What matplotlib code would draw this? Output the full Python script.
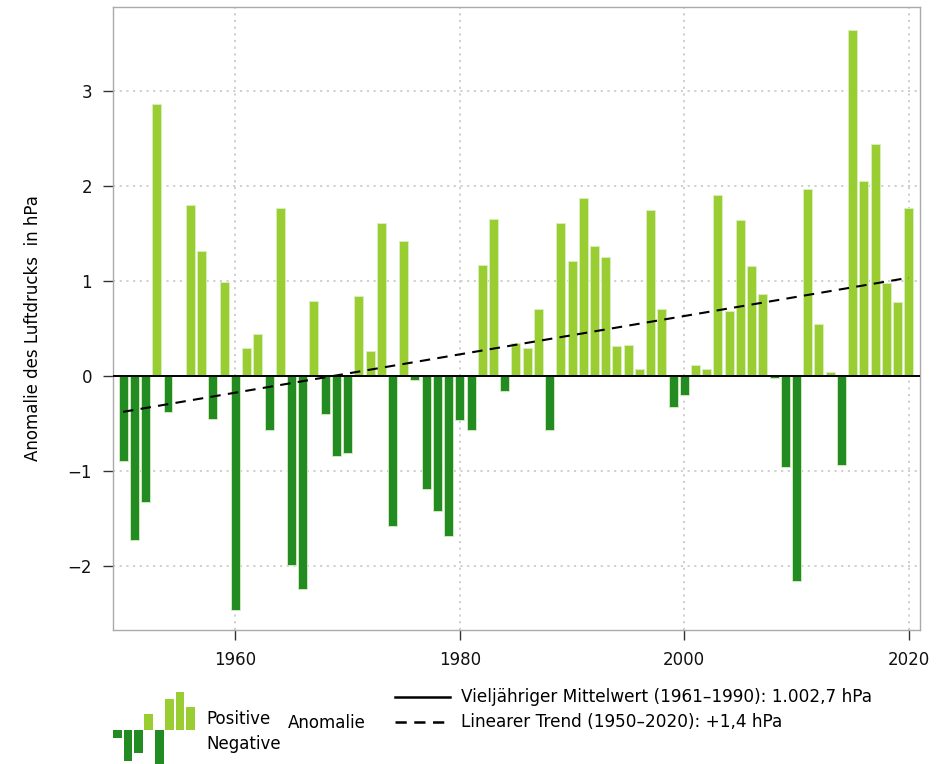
import numpy as np
import matplotlib
matplotlib.use("Agg")
import matplotlib.pyplot as plt
from matplotlib.lines import Line2D

plt.rcParams['font.family'] = ['DejaVu Sans']

years = list(range(1950, 2021))
anomaly = [
    -0.90, -1.73, -1.33, 2.87, -0.38, 0.00, 1.80, 1.32, -0.45, 0.99,   # 1950-1959
    -2.47, 0.29, 0.44, -0.57, 1.77, -1.99, -2.25, 0.79, -0.40, -0.84,  # 1960-1969
    -0.81, 0.84, 0.26, 1.61, -1.58, 1.42, -0.04, -1.19, -1.43, -1.69,  # 1970-1979
    -0.47, -0.57, 1.17, 1.65, -0.155, 0.35, 0.29, 0.70, -0.57, 1.61,   # 1980-1989
    1.21, 1.88, 1.37, 1.25, 0.31, 0.33, 0.07, 1.75, 0.70, -0.33,       # 1990-1999
    -0.20, 0.11, 0.07, 1.91, 0.68, 1.64, 1.16, 0.86, -0.02, -0.96,     # 2000-2009
    -2.16, 1.97, 0.55, 0.04, -0.94, 3.65, 2.06, 2.44, 0.98, 0.78,      # 2010-2019
    1.77,                                                              # 2020
]
x_ticks = [1960, 1980, 2000, 2020]
y_ticks = [-2, -1, 0, 1, 2, 3]
y_label = "Anomalie des Luftdrucks  in hPa"
legend_mean = "Vieljähriger Mittelwert (1961–1990): 1.002,7 hPa"
legend_trend = "Linearer Trend (1950–2020): +1,4 hPa"
legend_pos = "Positive"
legend_neg = "Negative"
legend_anom = "Anomalie"
icon_values = [-8, -31, -23, 16, -34, 31, 38, 23]

POS = "#9ACD32"
NEG = "#228B22"

fig = plt.figure(figsize=(9.42, 7.64), dpi=100)
W, H = 942, 764
ax = fig.add_axes([113 / W, 1 - 630 / H, (920 - 113) / W, (630 - 7) / H])

yrs = np.array(years)
vals = np.array(anomaly)
colors = [POS if v >= 0 else NEG for v in vals]
ax.bar(yrs, vals, width=0.8, color=colors, edgecolor="#d8f0c0", linewidth=0.6, zorder=2)

# zero line (long-term mean)
ax.axhline(0, color="black", lw=1.4, zorder=3)

# linear trend
coef = np.polyfit(yrs, vals, 1)
tx = np.array([yrs[0], yrs[-1]])
ax.plot(tx, np.polyval(coef, tx), color="black", lw=1.5, ls=(0, (5, 3.5)), zorder=4)

ax.set_xlim(1949.1, 2021.0)
ax.set_ylim(-2.68, 3.89)
ax.set_xticks(x_ticks)
ax.set_yticks(y_ticks)
ax.set_yticklabels(["\u22122", "\u22121", "0", "1", "2", "3"])
ax.grid(True, color="#cccccc", ls=(0, (1.2, 2.5)), lw=1.3, zorder=0)
ax.set_axisbelow(True)
for s in ax.spines.values():
    s.set_color("#aaaaaa")
    s.set_linewidth(1.0)
ax.tick_params(axis="both", direction="out", length=7, width=1.0, color="#333333",
               labelsize=12, labelcolor="#111111")
ax.tick_params(axis="y", pad=8)
ax.tick_params(axis="x", pad=8)
ax.set_ylabel(y_label, fontsize=12, va="center", ha="center")
ax.yaxis.set_label_coords((33 - 113) / 807, (630 - 328) / 623)

# legend icon
iax = fig.add_axes([112 / W, 1 - 764 / H, (196 - 112) / W, (764 - 690) / H])
ix = np.arange(len(icon_values))
iax.bar(ix, icon_values, width=0.85,
        color=[POS if v > 0 else NEG for v in icon_values])
iax.set_xlim(-0.55, len(icon_values) - 0.45)
iax.set_ylim(-34, 40)
iax.axis("off")

fig.text(206 / W, 1 - 719 / H, legend_pos, fontsize=12, va="center", ha="left")
fig.text(206 / W, 1 - 744 / H, legend_neg, fontsize=12, va="center", ha="left")
fig.text(288 / W, 1 - 723 / H, legend_anom, fontsize=12, va="center", ha="left")

fig.add_artist(Line2D([395 / W, 450 / W], [1 - 697 / H, 1 - 697 / H], color="black", lw=1.8))
fig.add_artist(Line2D([395 / W, 450 / W], [1 - 722 / H, 1 - 722 / H], color="black", lw=1.8,
                      ls=(0, (4.5, 3))))
fig.text(461 / W, 1 - 697 / H, legend_mean, fontsize=12.2, va="center", ha="left")
fig.text(461 / W, 1 - 722 / H, legend_trend, fontsize=12.2, va="center", ha="left")

fig.savefig("out.png", dpi=100)
